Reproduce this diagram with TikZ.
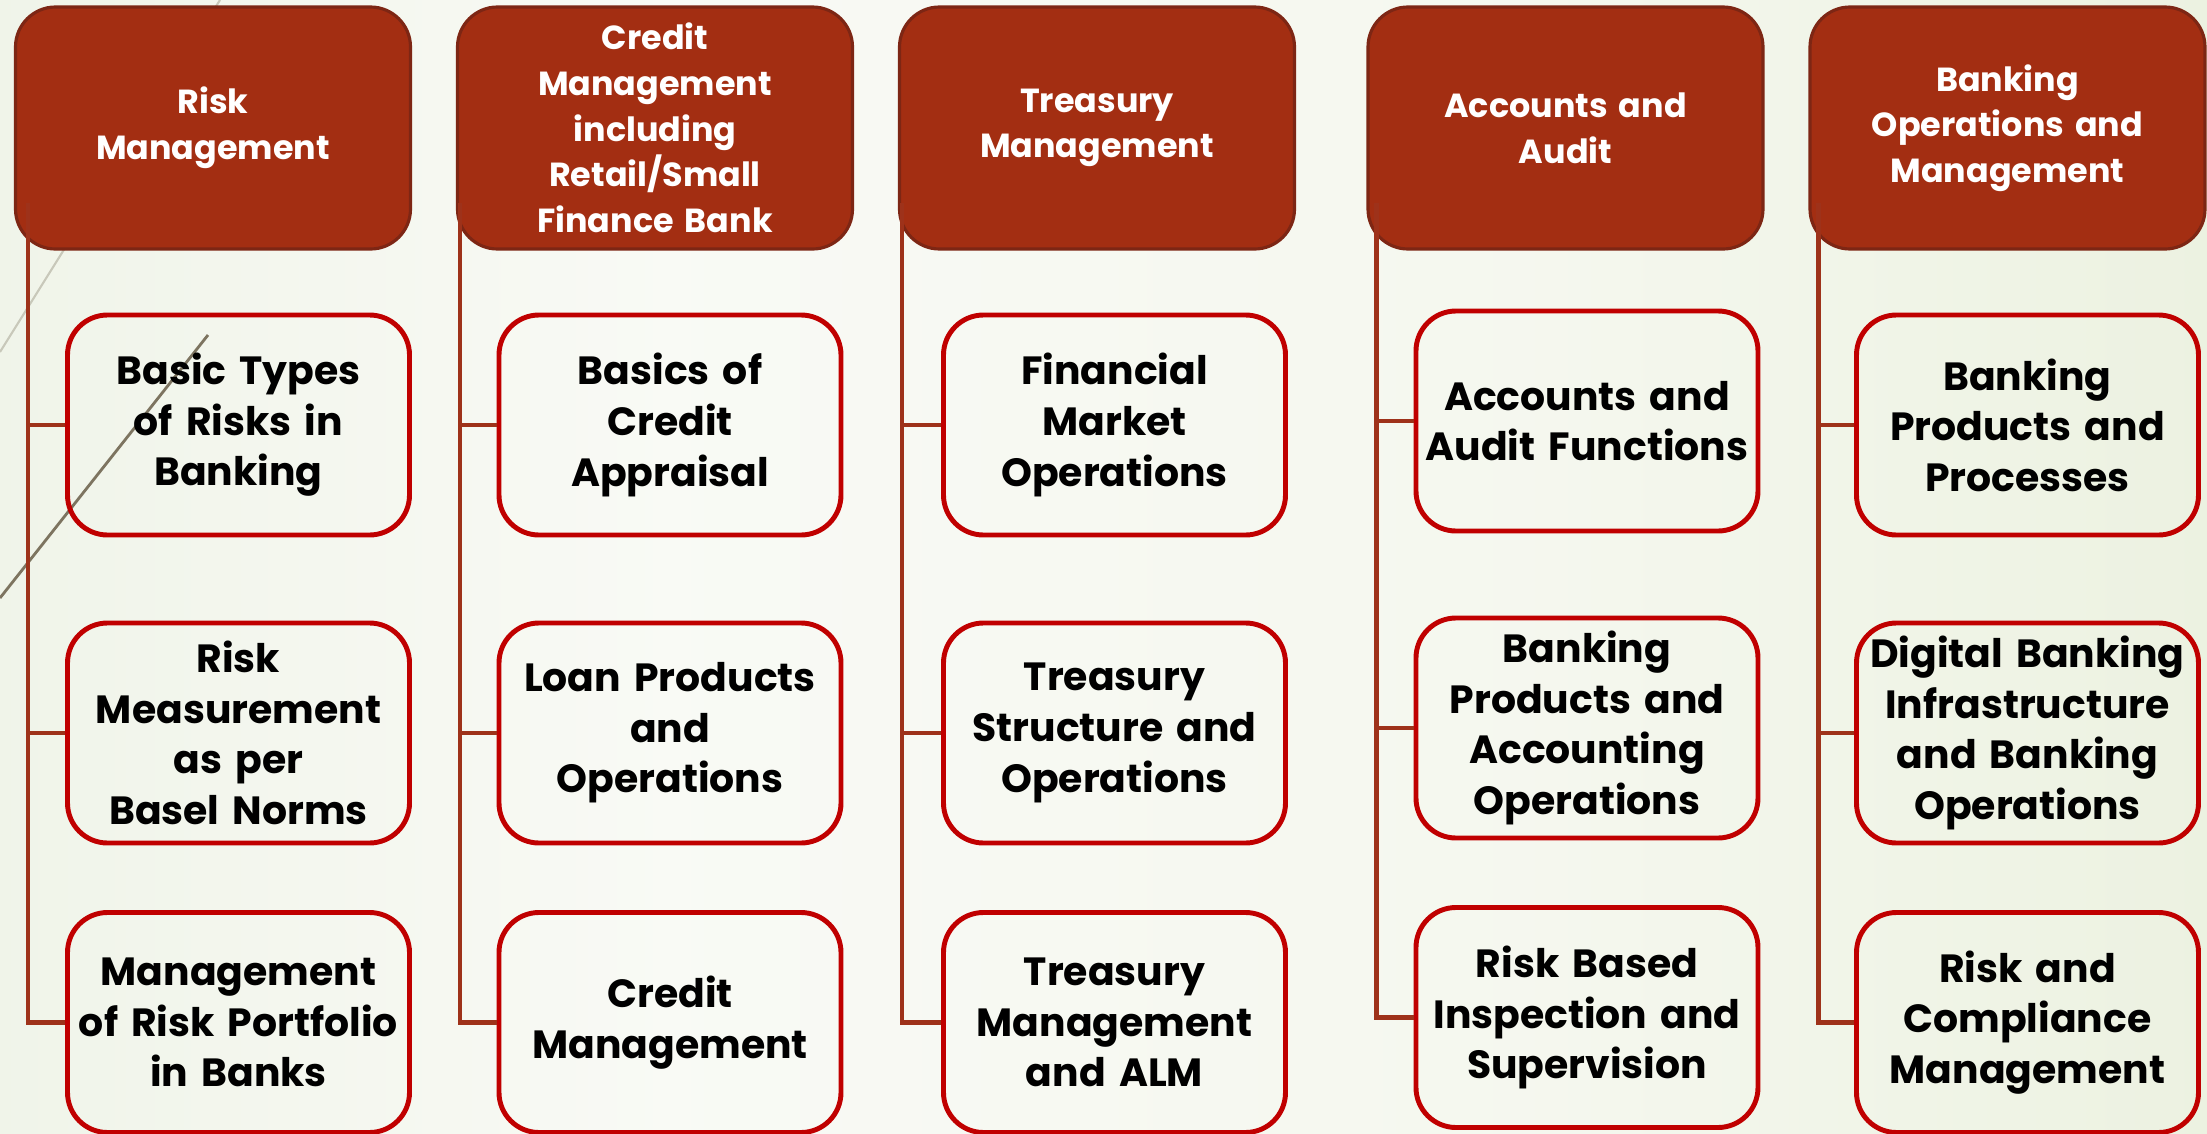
\documentclass[tikz,border=0pt]{standalone}
\usepackage{fontspec}
\setmainfont{Poppins}
\usetikzlibrary{positioning}

\definecolor{hdrfill}{RGB}{163,46,18}
\definecolor{hdrline}{RGB}{125,38,20}
\definecolor{boxline}{RGB}{192,0,0}
\definecolor{linkcol}{RGB}{158,50,26}
\definecolor{wisplight}{RGB}{200,200,186}
\definecolor{wispdark}{RGB}{125,116,96}

% slide background: green at the sides, nearly white in the middle
\pgfdeclarehorizontalshading{slidebg}{100bp}{
  rgb(0bp)=(0.885,0.915,0.830);
  rgb(20bp)=(0.930,0.950,0.900);
  rgb(40bp)=(0.975,0.980,0.960);
  rgb(60bp)=(0.960,0.970,0.935);
  rgb(80bp)=(0.915,0.940,0.865);
  rgb(100bp)=(0.870,0.905,0.785)}

\tikzset{
  area/.style={rectangle, rounded corners=0.4cm, draw=hdrline, line width=0.9pt,
    fill=hdrfill, text=white, minimum width=3.95cm, minimum height=2.42cm,
    text width=3.8cm, inner xsep=0.075cm,
    align=center, font=\bfseries\fontsize{9.5}{13}\selectfont},
  topic/.style={rectangle, rounded corners=0.4cm, draw=boxline, line width=1.4pt,
    minimum width=3.42cm, minimum height=2.2cm,
    text width=3.3cm, inner xsep=0.06cm,
    align=center, font=\bfseries\fontsize{11.2}{14.4}\selectfont},
  link/.style={draw=linkcol, line width=1.35pt}
}

\begin{document}
\begin{tikzpicture}
  % background of the slide
  \shade[shading=slidebg] (0,0) rectangle (22.07,-11.34);
  \useasboundingbox (0,0) rectangle (22.07,-11.34);
  % wisps on the left edge
  \draw[wisplight, line width=0.6pt] (0,-3.52) -- (2.2,0);
  \draw[wispdark, line width=0.8pt] (0,-5.98) -- (2.08,-3.35);

  % the five subject areas
  \node[area] (risk) at (2.13,-1.28) {Risk\\Management};
  \node[area] (credit) at (6.55,-1.28) {Credit\\Management\\including\\Retail/Small\\Finance Bank};
  \node[area] (treasury) at (10.97,-1.28) {Treasury\\Management};
  \node[area] (accounts) at (15.655,-1.28) {Accounts and\\Audit};
  \node[area] (banking) at (20.075,-1.28) {Banking\\Operations and\\Management};

  % papers under each area
  \node[topic] (risk1) at (2.385,-4.25) {Basic Types\\of Risks in\\Banking};
  \node[topic] (risk2) at (2.385,-7.33) {Risk\\Measurement\\as per\\Basel Norms};
  \node[topic] (risk3) at (2.385,-10.225) {Management\\of Risk Portfolio\\in Banks};

  \node[topic] (credit1) at (6.70,-4.25) {Basics of\\Credit\\Appraisal};
  \node[topic] (credit2) at (6.70,-7.33) {Loan Products\\and\\Operations};
  \node[topic] (credit3) at (6.70,-10.225) {Credit\\Management};

  \node[topic] (treasury1) at (11.145,-4.25) {Financial\\Market\\Operations};
  \node[topic] (treasury2) at (11.145,-7.33) {Treasury\\Structure and\\Operations};
  \node[topic] (treasury3) at (11.145,-10.225) {Treasury\\Management\\and ALM};

  \node[topic] (accounts1) at (15.87,-4.21) {Accounts and\\Audit Functions};
  \node[topic] (accounts2) at (15.87,-7.28) {Banking\\Products and\\Accounting\\Operations};
  \node[topic] (accounts3) at (15.87,-10.175) {Risk Based\\Inspection and\\Supervision};

  \node[topic] (banking1) at (20.275,-4.25) {Banking\\Products and\\Processes};
  \node[topic] (banking2) at (20.275,-7.33) {Digital Banking\\Infrastructure\\and Banking\\Operations};
  \node[topic] (banking3) at (20.275,-10.225) {Risk and\\Compliance\\Management};

  % trunks start inside the area boxes
  \coordinate (riskT) at ([shift={(0.14,0.48)}]risk.south west);
  \coordinate (creditT) at ([shift={(0.04,0.48)}]credit.south west);
  \coordinate (treasuryT) at ([shift={(0.04,0.48)}]treasury.south west);
  \coordinate (accountsT) at ([shift={(0.10,0.48)}]accounts.south west);
  \coordinate (bankingT) at ([shift={(0.10,0.48)}]banking.south west);

  \draw[link] (riskT) |- (risk3.west);
  \draw[link] (risk1.west) -- (risk1.west -| riskT);
  \draw[link] (risk2.west) -- (risk2.west -| riskT);

  \draw[link] (creditT) |- (credit3.west);
  \draw[link] (credit1.west) -- (credit1.west -| creditT);
  \draw[link] (credit2.west) -- (credit2.west -| creditT);

  \draw[link] (treasuryT) |- (treasury3.west);
  \draw[link] (treasury1.west) -- (treasury1.west -| treasuryT);
  \draw[link] (treasury2.west) -- (treasury2.west -| treasuryT);

  \draw[link] (accountsT) |- (accounts3.west);
  \draw[link] (accounts1.west) -- (accounts1.west -| accountsT);
  \draw[link] (accounts2.west) -- (accounts2.west -| accountsT);

  \draw[link] (bankingT) |- (banking3.west);
  \draw[link] (banking1.west) -- (banking1.west -| bankingT);
  \draw[link] (banking2.west) -- (banking2.west -| bankingT);
\end{tikzpicture}
\end{document}
